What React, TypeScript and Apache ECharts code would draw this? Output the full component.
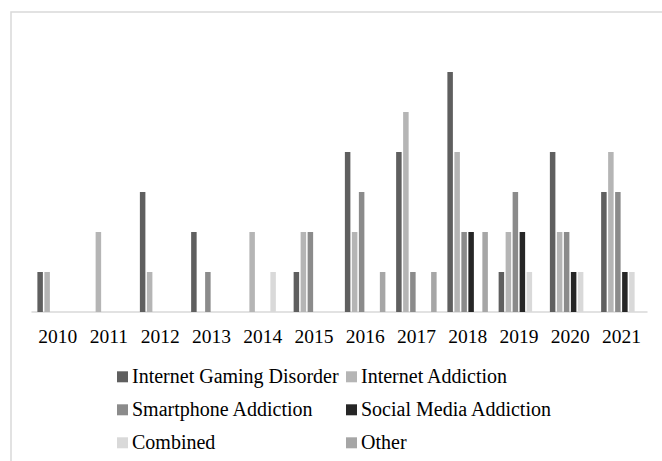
import React, { useEffect, useRef } from "react";
import * as echarts from "echarts";

const years = ["2010", "2011", "2012", "2013", "2014", "2015", "2016", "2017", "2018", "2019", "2020", "2021"];
const seriesNames = [
  "Internet Gaming Disorder",
  "Internet Addiction",
  "Smartphone Addiction",
  "Social Media Addiction",
  "Combined",
  "Other",
];
const gamingDisorder = [1, 0, 3, 2, 0, 1, 4, 4, 6, 1, 4, 3];
const internetAddiction = [1, 2, 1, 0, 2, 2, 2, 5, 4, 2, 2, 4];
const smartphoneAddiction = [0, 0, 0, 1, 0, 2, 3, 1, 2, 3, 2, 3];
const socialMediaAddiction = [0, 0, 0, 0, 0, 0, 0, 0, 2, 2, 1, 1];
const combined = [0, 0, 0, 0, 1, 0, 0, 0, 0, 1, 1, 1];
const other = [0, 0, 0, 0, 0, 0, 1, 1, 2, 0, 0, 0];

const seriesData = [gamingDisorder, internetAddiction, smartphoneAddiction, socialMediaAddiction, combined, other];
const colors = ["#5f5f5f", "#b5b5b5", "#8b8b8b", "#262626", "#d9d9d9", "#a6a6a6"];

const FONT = "Liberation Serif";

export default function App() {
  const ref = useRef<HTMLDivElement>(null);
  useEffect(() => {
    if (!ref.current) return;
    const chart = echarts.init(ref.current, undefined, { renderer: "svg" });
    const colX = [117, 346];
    const rowY = [376.8, 409.8, 442.8];
    const legendGraphics: any[] = [];
    seriesNames.forEach((n, i) => {
      const x = colX[i % 2];
      const y = rowY[Math.floor(i / 2)];
      legendGraphics.push({
        type: "rect",
        shape: { x, y: y - 5.5, width: 11, height: 11 },
        style: { fill: colors[i] },
        silent: true,
      });
      legendGraphics.push({
        type: "text",
        x: x + 15,
        y: y - 10.5,
        style: {
          text: n,
          fontFamily: FONT,
          fontSize: 20,
          fill: "#000",
        },
        silent: true,
      });
    });
    chart.setOption({
      animation: false,
      backgroundColor: "#ffffff",
      textStyle: { fontFamily: FONT },
      grid: { left: 32, right: 15, top: 32, bottom: 149, containLabel: false },
      xAxis: {
        type: "category",
        data: years,
        axisTick: { show: false },
        axisLine: { lineStyle: { color: "#d9d9d9", width: 1.5 } },
        axisLabel: { color: "#000", fontFamily: FONT, fontSize: 19.5, margin: 14 },
      },
      yAxis: {
        type: "value",
        min: 0,
        max: 7,
        interval: 1,
        show: false,
        splitLine: { show: false },
      },
      graphic: [
        {
          type: "rect",
          shape: { x: 11, y: 12, width: 700, height: 500 },
          style: { fill: "none", stroke: "#d9d9d9", lineWidth: 1.5 },
          silent: true,
        },
        ...legendGraphics,
      ],
      series: seriesNames.map((n, i) => ({
        name: n,
        type: "bar",
        data: seriesData[i],
        itemStyle: { color: colors[i] },
        barGap: "27%",
        barCategoryGap: "21%",
      })),
    });
    return () => chart.dispose();
  }, []);
  return (
    <div
      ref={ref}
      style={{ position: "fixed", left: 0, top: 0, width: 662, height: 461, background: "#fff" }}
    />
  );
}
